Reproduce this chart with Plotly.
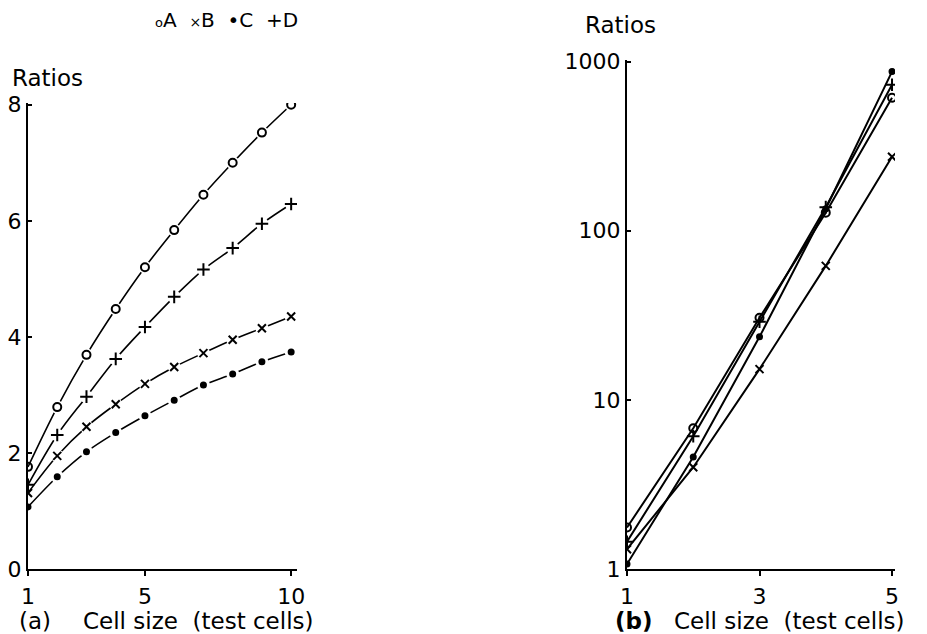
import plotly.graph_objects as go

# ---------------- data ----------------
x_left = [1, 2, 3, 4, 5, 6, 7, 8, 9, 10]
A_left = [1.76, 2.79, 3.69, 4.48, 5.20, 5.84, 6.45, 7.00, 7.52, 8.00]
B_left = [1.31, 1.95, 2.45, 2.84, 3.19, 3.48, 3.72, 3.95, 4.15, 4.35]
C_left = [1.07, 1.59, 2.02, 2.35, 2.64, 2.91, 3.17, 3.36, 3.57, 3.74]
D_left = [1.45, 2.31, 2.97, 3.62, 4.17, 4.69, 5.16, 5.53, 5.95, 6.29]

x_right = [1, 2, 3, 4, 5]
A_right = [1.76, 6.8, 30.6, 128, 612]
B_right = [1.31, 4.0, 15.2, 62, 274]
C_right = [1.07, 4.6, 23.6, 135, 874]
D_right = [1.45, 6.1, 29.0, 138, 731]

series_names = ["A", "B", "C", "D"]
left_tickvals = [0, 2, 4, 6, 8]
left_xticks = [1, 5, 10]
right_xticks = [1, 3, 5]
right_tickvals = [1, 10, 100, 1000]

# ---------------- styles ----------------
FONT = "DejaVu Sans"
symbols = {"A": "circle-open", "B": "x-thin", "C": "circle", "D": "cross-thin"}
msize = {"A": 8, "B": 8, "C": 5, "D": 9}

# page body has an 8px margin: size the figure so it ends at the window edge
OFF = 8
W, H = 927 - OFF, 634 - OFF


def px(x):
    return (x - OFF) / W


def py(y):
    return 1 - (y - OFF) / H


fig = go.Figure()

left = {"A": A_left, "B": B_left, "C": C_left, "D": D_left}
right = {"A": A_right, "B": B_right, "C": C_right, "D": D_right}

# lines
for n in series_names:
    fig.add_trace(go.Scatter(x=x_left, y=left[n], mode="lines", line=dict(color="black", width=1.6, shape="spline"),
                             xaxis="x", yaxis="y", showlegend=False, hoverinfo="skip"))
    fig.add_trace(go.Scatter(x=x_right, y=right[n], mode="lines", line=dict(color="black", width=2),
                             xaxis="x2", yaxis="y2", showlegend=False, hoverinfo="skip"))
# white gaps around markers (left panel, skip crowded first point)
for n in series_names:
    fig.add_trace(go.Scatter(x=x_left[1:], y=left[n][1:], mode="markers",
                             marker=dict(symbol="circle", size=13, color="white"),
                             xaxis="x", yaxis="y", showlegend=False, hoverinfo="skip"))
# markers
for n in series_names:
    for xa, ya, d, xs in (("x", "y", left, x_left), ("x2", "y2", right, x_right)):
        fig.add_trace(go.Scatter(x=xs, y=d[n], mode="markers", name=n,
                                 marker=dict(symbol=symbols[n], size=msize[n], color="black",
                                             line=dict(color="black", width=2)),
                                 xaxis=xa, yaxis=ya, showlegend=False))

base = dict(showline=True, linecolor="black", linewidth=2, showgrid=False, zeroline=False,
            ticklen=5, tickwidth=1.5, tickcolor="black", automargin=False,
            tickfont=dict(family=FONT, size=22, color="black"))
xaxis_common = dict(base, ticks="outside", ticklabelstandoff=2)
yaxis_common = dict(base, ticks="inside", ticklen=4)

fig.update_layout(
    width=W, height=H,
    margin=dict(l=0, r=0, t=0, b=0),
    paper_bgcolor="white", plot_bgcolor="white",
    font=dict(family=FONT, color="black"),
    xaxis=dict(domain=[px(28), px(297)], range=[1, 10.2], tickvals=left_xticks, anchor="y", **xaxis_common),
    yaxis=dict(domain=[py(569), py(103)], range=[0, 8.03], tickvals=left_tickvals, anchor="x", **yaxis_common),
    xaxis2=dict(domain=[px(627), px(895)], range=[1, 5.045], tickvals=right_xticks, anchor="y2", **xaxis_common),
    yaxis2=dict(domain=[py(569), py(60)], type="log", range=[0, 3.01], tickvals=right_tickvals,
                ticktext=[str(v) for v in right_tickvals], anchor="x2", **yaxis_common),
)

ann_font = dict(family=FONT, size=23, color="black")
annotations = [
    dict(text="Ratios", x=px(10), y=py(78), xanchor="left", yanchor="middle"),
    dict(text="Ratios", x=px(583), y=py(25), xanchor="left", yanchor="middle"),
    dict(text="(a)", x=px(17), y=py(621), xanchor="left", yanchor="middle"),
    dict(text="Cell size  (test cells)", x=px(81), y=py(621), xanchor="left", yanchor="middle"),
    dict(text="<b>(b)</b>", x=px(613), y=py(621), xanchor="left", yanchor="middle"),
    dict(text="Cell size  (test cells)", x=px(672), y=py(621), xanchor="left", yanchor="middle"),
    dict(text="<span style='font-size:13px'>o</span>A  <span style='font-size:14px'>×</span>B  •C  +D",
         x=px(153), y=py(20), xanchor="left", yanchor="middle", font=dict(family=FONT, size=20, color="black")),
]
for a in annotations:
    a.setdefault("font", ann_font)
    a.update(xref="paper", yref="paper", showarrow=False)
fig.update_layout(annotations=annotations)

fig.write_html("out.html")
